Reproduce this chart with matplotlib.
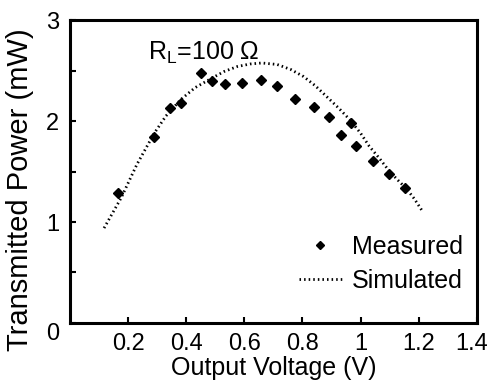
import numpy as np
import matplotlib
matplotlib.use("Agg")
import matplotlib.pyplot as plt
from matplotlib.transforms import ScaledTranslation

plt.rcParams['font.family'] = ['Liberation Sans', 'DejaVu Sans']
plt.rcParams['mathtext.fontset'] = 'custom'
plt.rcParams['mathtext.rm'] = 'Liberation Sans'

# measured points
meas_v = [0.165, 0.29, 0.344, 0.382, 0.45, 0.487, 0.533, 0.591, 0.656, 0.714,
          0.773, 0.838, 0.892, 0.932, 0.966, 0.985, 1.042, 1.099, 1.152]
meas_p = [1.29, 1.84, 2.13, 2.18, 2.48, 2.40, 2.37, 2.38, 2.41, 2.35,
          2.22, 2.14, 2.04, 1.86, 1.98, 1.75, 1.60, 1.48, 1.34]

# simulated curve
sim_v = [0.117, 0.176, 0.23, 0.29, 0.33, 0.38, 0.43, 0.485, 0.53, 0.576, 0.62,
         0.66, 0.713, 0.76, 0.804, 0.844, 0.884, 0.924, 0.964, 1.0, 1.03, 1.065,
         1.10, 1.13, 1.158, 1.185, 1.21]
sim_p = [0.94, 1.24, 1.57, 1.88, 2.05, 2.21, 2.33, 2.42, 2.49, 2.54, 2.565,
         2.575, 2.56, 2.51, 2.44, 2.35, 2.24, 2.13, 2.01, 1.88, 1.75, 1.63,
         1.50, 1.41, 1.33, 1.23, 1.12]

fig = plt.figure(figsize=(4.9, 3.82), dpi=100)
ax = fig.add_axes([0.143, 0.1545, 0.83, 0.793])

ax.plot(sim_v, sim_p, color='black', lw=2.0, linestyle=(0, (0.55, 1.1)),
        label='Simulated', zorder=2)
ax.plot(meas_v, meas_p, 'D', color='black', markersize=5.5, label='Measured',
        zorder=3)

ax.set_xlim(0, 1.4)
ax.set_ylim(0, 3)
ax.set_xticks([0.2, 0.4, 0.6, 0.8, 1.0, 1.2, 1.4])
ax.set_xticklabels(['0.2', '0.4', '0.6', '0.8', '1', '1.2', '1.4'])
ax.set_yticks([0, 1, 2, 3])
ax.set_yticks([0.5, 1.5, 2.5], minor=True)
ax.tick_params(axis='both', which='both', direction='in', labelsize=17,
               width=1.5, length=4)
ax.tick_params(axis='x', pad=7)
ax.tick_params(axis='y', pad=8)
ax.get_yticklabels()[0].set_va('top')

# keep "1.4" inside the figure edge
last = ax.get_xticklabels()[-1]
last.set_ha('right')
last.set_transform(last.get_transform() +
                   ScaledTranslation(0.115, 0, fig.dpi_scale_trans))

for s in ax.spines.values():
    s.set_linewidth(2.2)

ax.set_xlabel('Output Voltage (V)', fontsize=18, labelpad=1)
ax.set_ylabel('Transmitted Power (mW)', fontsize=21)
ax.yaxis.set_label_coords(-0.088, 0.44)

ax.text(0.268, 2.67, r'R$_\mathrm{L}$=100 Ω', fontsize=18, va='center')

handles, labels = ax.get_legend_handles_labels()
ax.legend(handles[::-1], labels[::-1], loc='lower right',
          bbox_to_anchor=(0.965, 0.10), frameon=False,
          fontsize=18, handlelength=1.7, handletextpad=0.4, labelspacing=0.4,
          borderaxespad=0.0, borderpad=0.0, markerscale=0.7)

fig.savefig('out.png', dpi=100)
